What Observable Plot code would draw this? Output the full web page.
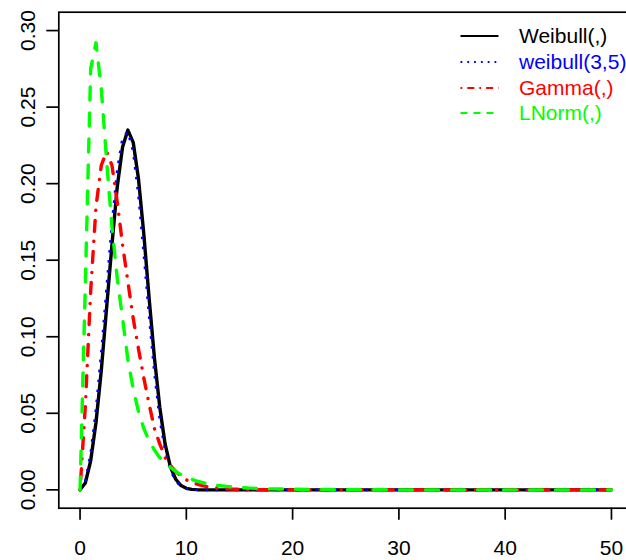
<!DOCTYPE html>
<html><head><meta charset="utf-8">
<script src="https://cdn.jsdelivr.net/npm/d3@7"></script>
<script src="https://cdn.jsdelivr.net/npm/@observablehq/plot@0.6"></script>
<style>
html,body{margin:0;padding:0;background:#fff;overflow:hidden;}
#wrap{position:relative;width:626px;height:560px;}
#legend{position:absolute;left:0;top:0;width:626px;height:0;font-family:"Liberation Sans",Arial,sans-serif;font-size:21px;}
.lrow{position:absolute;left:460px;height:26px;display:flex;align-items:center;white-space:nowrap;}
.lrow svg{display:block;margin-right:20px;}
</style></head><body><div id="wrap"></div>
<script>
// x grid of the densities
const xs = [0,0.5,1,1.5,2,2.5,3,3.5,4,4.5,5,5.5,6,6.5,7,7.5,8,8.5,9,9.5,10,10.5,11,11.5,12,
            13,14,15,16,17,18,19,20,25,30,35,40,45,50];
// Weibull(,) fitted (black solid)
const weibullFit = [0,0.0045,0.019,0.044,0.078,0.119,0.160,0.198,0.224,0.235,0.227,0.203,0.167,0.125,0.086,0.054,0.030,0.015,0.0069,0.0028,0.0010,0.0003,0.0001,0,0,
            0,0,0,0,0,0,0,0,0,0,0,0,0,0];
// weibull(3,5) (blue dotted)
const weibull35 = [0,0.006,0.0238,0.0526,0.090,0.132,0.174,0.209,0.230,0.234,0.221,0.192,0.154,0.113,0.076,0.046,0.026,0.0128,0.0057,0.0023,0.0008,0.00025,0.0001,0,0,
            0,0,0,0,0,0,0,0,0,0,0,0,0,0];
// Gamma(,) (red dot-dash)
const gammaFit = [0,0.055,0.130,0.185,0.212,0.221,0.212,0.188,0.160,0.136,0.112,0.092,0.073,0.056,0.040,0.030,0.021,0.016,0.012,0.009,0.0065,0.005,0.0037,0.0028,0.002,
            0.0011,0.0006,0.0003,0.0002,0.0001,0.0001,0,0,0,0,0,0,0,0];
// LNorm(,) (green dashed)
const lnormFit = [0,0.135,0.275,0.292,0.262,0.215,0.172,0.138,0.112,0.085,0.066,0.051,0.040,0.032,0.026,0.021,0.0181,0.0147,0.012,0.0099,0.0082,0.0069,0.0057,0.0048,0.004,
            0.0028,0.0021,0.0015,0.0011,0.0008,0.0006,0.0005,0.0004,0.0001,0,0,0,0,0];

const xTicks = [0,10,20,30,40,50];
const yTicks = [0,0.05,0.10,0.15,0.20,0.25,0.30];
const legendLabels = ["Weibull(,)","weibull(3,5)","Gamma(,)","LNorm(,)"];
const colors = ["#000000","#0000ff","#ff0000","#00ff00"];

const rows = xs.map((x,i)=>({x, w:weibullFit[i], w35:weibull35[i], g:gammaFit[i], ln:lnormFit[i]}));

const lineBase = {x:"x", strokeLinecap:"round", strokeLinejoin:"round", curve:"linear"};
const chart = Plot.plot({
  width:626, height:560,
  marginLeft:58.3, marginRight:-6.2, marginTop:11.7, marginBottom:52.3,
  x:{domain:[-2,52], label:null},
  y:{domain:[-0.012,0.312], label:null},
  style:{fontFamily:"'Liberation Sans',Arial,sans-serif", fontSize:"21px", background:"white", color:"black"},
  marks:[
    Plot.line(rows,{...lineBase, y:"w", stroke:colors[0], strokeWidth:3.4}),
    Plot.line(rows,{...lineBase, y:"w35", stroke:colors[1], strokeWidth:2.6, strokeLinecap:"butt", strokeDasharray:"2.6,7.4"}),
    Plot.line(rows,{...lineBase, y:"g", stroke:colors[2], strokeWidth:3.4, strokeDasharray:"0.1,10,11,10"}),
    Plot.line(rows,{...lineBase, y:"ln", stroke:colors[3], strokeWidth:3.4, strokeDasharray:"13,13"}),
    Plot.frame({stroke:"black", strokeWidth:1.7}),
    Plot.axisX({ticks:xTicks, tickSize:12, tickPadding:20, tickFormat:d=>String(d), strokeWidth:1.7, fontSize:21}),
    Plot.axisY({ticks:yTicks, tickSize:12, tickPadding:12, tickRotate:-90, tickFormat:d=>d.toFixed(2), strokeWidth:1.7, fontSize:21})
  ]
});
const wrap = document.getElementById("wrap");
wrap.appendChild(chart);

// legend overlay (top right, inside plot area)
const legend = document.createElement("div");
legend.id = "legend";
const dashes = [null, "1.8,5", "1.8,5,7,5", "7,6"];
const rowY = [23, 49, 75, 100];
legendLabels.forEach((lab,i)=>{
  const r = document.createElement("div");
  r.className = "lrow";
  r.style.top = rowY[i]+"px";
  const s = d3.create("svg").attr("width",39).attr("height",26);
  s.append("line").attr("x1",0.5).attr("x2",38.5).attr("y1",13).attr("y2",13)
    .attr("stroke",colors[i]).attr("stroke-width",1.8)
    .attr("stroke-dasharray",dashes[i]);
  r.appendChild(s.node());
  const t = document.createElement("span");
  t.textContent = lab; t.style.color = colors[i];
  r.appendChild(t);
  legend.appendChild(r);
});
wrap.appendChild(legend);
</script>
</body></html>
